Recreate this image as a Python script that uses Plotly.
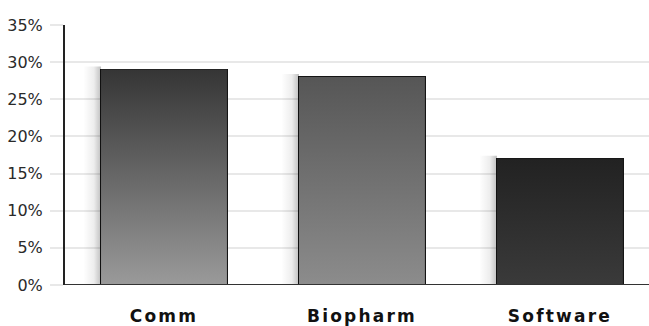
import plotly.graph_objects as go

categories = ["Comm", "Biopharm", "Software"]
values = [29, 28, 17]
top_colors = ["#353535", "#565656", "#222222"]
bottom_colors = ["#9a9a9a", "#8c8c8c", "#3a3a3a"]
y_ticks = [0, 5, 10, 15, 20, 25, 30, 35]
y_tick_labels = [f"{v}%" for v in y_ticks]

BAR_W = 0.636
SHADOW_W = 0.09

fig = go.Figure()
xs = list(range(len(categories)))

for i, (v, tc, bc) in enumerate(zip(values, top_colors, bottom_colors)):
    left = i - BAR_W / 2
    right = i + BAR_W / 2
    # soft shadow on left
    fig.add_trace(go.Scatter(
        x=[left - SHADOW_W, left, left, left - SHADOW_W, left - SHADOW_W],
        y=[0, 0, v + 0.4, v + 0.4, 0],
        mode="none", fill="toself",
        fillgradient=dict(type="horizontal",
                          colorscale=[[0, "rgba(0,0,0,0)"], [0.6, "rgba(0,0,0,0.07)"], [1, "rgba(0,0,0,0.25)"]]),
        hoverinfo="skip", showlegend=False))
    # gradient fill
    fig.add_trace(go.Scatter(
        x=[left, right, right, left, left],
        y=[0, 0, v, v, 0],
        mode="none", fill="toself",
        fillgradient=dict(type="vertical", colorscale=[[0, bc], [1, tc]]),
        hoverinfo="skip", showlegend=False))

fig.add_trace(go.Bar(
    x=xs, y=values, width=BAR_W,
    marker=dict(color="rgba(0,0,0,0)", line=dict(color="#151515", width=2)),
    showlegend=False, hoverinfo="skip"))

fig.update_layout(
    width=649, height=326,
    margin=dict(l=65, r=0, t=25, b=41),
    paper_bgcolor="white", plot_bgcolor="white",
    bargap=0,
    xaxis=dict(range=[-0.5, 2.45], tickvals=xs, ticktext=categories,
               showgrid=False, zeroline=False, showline=False,
               tickfont=dict(family="DejaVu Sans", size=17, color="#111111", weight="bold"),
               ticks="", ticklabelstandoff=19, fixedrange=True, automargin=False),
    yaxis=dict(range=[0, 35], tickvals=y_ticks, ticktext=y_tick_labels,
               showgrid=True, gridcolor="#e8e8e8", gridwidth=1.5,
               zeroline=False, showline=True, linecolor="#222222", linewidth=2,
               ticks="outside", ticklen=13, tickcolor="#e8e8e8", tickwidth=1.5,
               tickfont=dict(family="DejaVu Sans", size=16, color="#2a2a2a"),
               ticklabelstandoff=4, fixedrange=True, automargin=False),
    shapes=[dict(type="line", xref="paper", yref="y", x0=0, x1=1, y0=0, y1=0,
                 line=dict(color="#333333", width=2), layer="above")],
)

fig.write_html(
    "out.html",
    config={"displayModeBar": False},
    post_script=(
        "document.body.style.margin='0';"
        "document.querySelectorAll('.xtick text').forEach(function(t){t.style.letterSpacing='2.2px';});"
    ),
)
